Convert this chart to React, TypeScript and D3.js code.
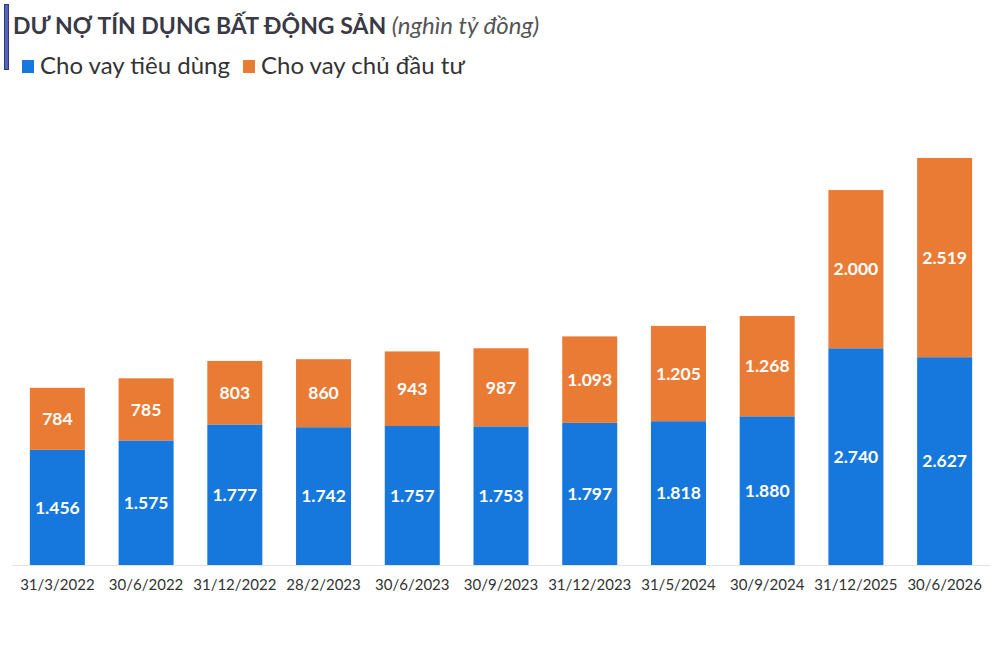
import { useEffect, useRef } from 'react';
import * as d3 from 'd3';

const categories = [
  '31/3/2022', '30/6/2022', '31/12/2022', '28/2/2023', '30/6/2023', '30/9/2023',
  '31/12/2023', '31/5/2024', '30/9/2024', '31/12/2025', '30/6/2026',
];
const consumerLoans = [1456, 1575, 1777, 1742, 1757, 1753, 1797, 1818, 1880, 2740, 2627];
const developerLoans = [784, 785, 803, 860, 943, 987, 1093, 1205, 1268, 2000, 2519];
const seriesNames = ['Cho vay tiêu dùng', 'Cho vay chủ đầu tư'];
const seriesColors = ['#1677dc', '#ea7b34'];

const W = 1000;
const H = 666;

// vietnamese style thousands separator: 1.456
const fmt = (v: number) => d3.format(',')(v).replace(/,/g, '.');

export default function App() {
  const svgRef = useRef<SVGSVGElement>(null);

  useEffect(() => {
    if (!svgRef.current) return;
    const svg = d3.select(svgRef.current);
    svg.selectAll('*').remove();

    const baseY = 565;
    const x = d3.scaleBand<string>()
      .domain(categories)
      .range([13, 989])
      .paddingInner(0.38)
      .paddingOuter(0.19);

    const y = d3.scaleLinear()
      .domain([0, 5500])
      .range([baseY, baseY - 5500 * 0.0791]);

    const rows = categories.map((c, i) => ({
      cat: c,
      consumer: consumerLoans[i],
      developer: developerLoans[i],
    }));
    const stacked = d3.stack<any>().keys(['consumer', 'developer'])(rows);

    // title
    svg.append('rect')
      .attr('x', 4.5).attr('y', 4.5).attr('width', 4).attr('height', 65)
      .attr('fill', '#5566b8')
      .attr('stroke', '#2e3a78');

    const title = svg.append('text')
      .attr('x', 13).attr('y', 34)
      .attr('font-family', 'Lato, sans-serif')
      .attr('font-size', 23)
      .attr('fill', '#3a3a46');
    title.append('tspan').attr('font-weight', 700).text('DƯ NỢ TÍN DỤNG BẤT ĐỘNG SẢN ');
    title.append('tspan').attr('font-style', 'italic').attr('font-size', 24).attr('fill', '#555')
      .text('(nghìn tỷ đồng)');

    // legend
    const legendX = [22, 243];
    seriesNames.forEach((name, i) => {
      svg.append('rect')
        .attr('x', legendX[i]).attr('y', 60).attr('width', 12).attr('height', 13)
        .attr('fill', seriesColors[i]);
      svg.append('text')
        .attr('x', legendX[i] + 18).attr('y', 74)
        .attr('font-family', 'Lato, sans-serif')
        .attr('font-size', 24)
        .attr('fill', '#333')
        .text(name);
    });

    // baseline
    svg.append('line')
      .attr('x1', 12).attr('x2', 990)
      .attr('y1', baseY + 0.5).attr('y2', baseY + 0.5)
      .attr('stroke', '#e3e3e3');

    const g = svg.append('g');
    stacked.forEach((layer, li) => {
      g.selectAll(`.bar-${li}`)
        .data(layer)
        .enter()
        .append('rect')
        .attr('x', d => x(d.data.cat)!)
        .attr('width', x.bandwidth())
        .attr('y', d => y(d[1]))
        .attr('height', d => y(d[0]) - y(d[1]))
        .attr('fill', seriesColors[li]);

      g.selectAll(`.lbl-${li}`)
        .data(layer)
        .enter()
        .append('text')
        .attr('x', d => x(d.data.cat)! + x.bandwidth() / 2)
        .attr('y', d => (y(d[0]) + y(d[1])) / 2)
        .attr('dy', '0.36em')
        .attr('text-anchor', 'middle')
        .attr('font-family', 'Lato, sans-serif')
        .attr('font-weight', 700)
        .attr('font-size', 17.5)
        .attr('fill', '#fff')
        .text(d => fmt(d[1] - d[0]));
    });

    const xAxis = d3.axisBottom(x).tickSize(0).tickPadding(14);
    const ax = svg.append('g')
      .attr('transform', `translate(0,${baseY})`)
      .call(xAxis);
    ax.select('.domain').remove();
    ax.selectAll('text')
      .attr('font-family', 'Lato, sans-serif')
      .attr('font-size', 15)
      .attr('fill', '#333');
  }, []);

  return (
    <svg
      ref={svgRef}
      width={W}
      height={H}
      style={{ position: 'absolute', left: 0, top: 0, background: '#fff' }}
    />
  );
}
